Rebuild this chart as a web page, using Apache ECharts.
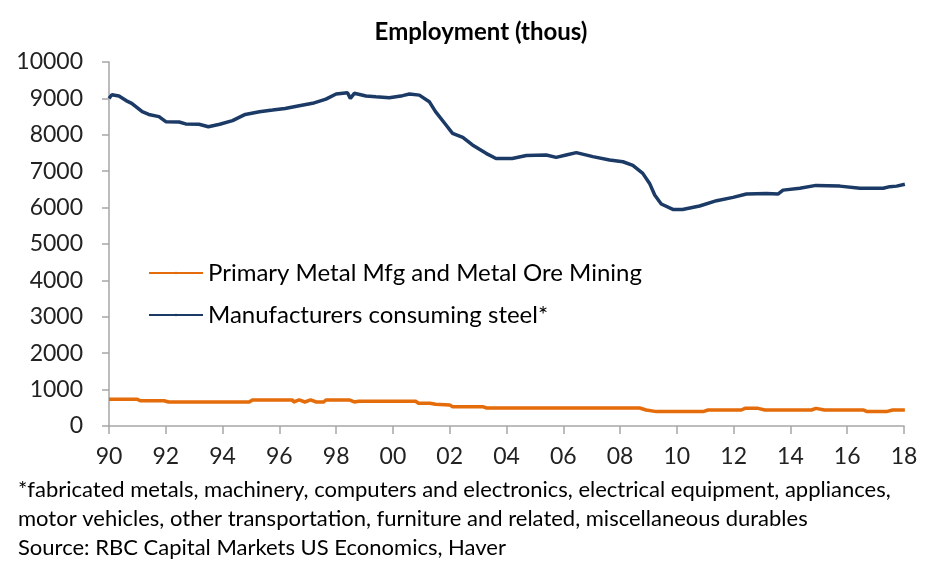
<!DOCTYPE html>
<html>
<head>
<meta charset="utf-8">
<script src="https://cdn.jsdelivr.net/npm/echarts@6/dist/echarts.min.js"></script>
<style>html,body{margin:0;padding:0;background:#fff;}#c{width:935px;height:574px;}</style>
</head>
<body>
<div id="c"></div>
<script>
var chartTitle = 'Employment (thous)';
var seriesNames = ['Primary Metal Mfg and Metal Ore Mining', 'Manufacturers consuming steel*'];
var footnotes = [
  '*fabricated metals, machinery, computers and electronics, electrical equipment, appliances,',
  'motor vehicles, other transportation, furniture and related, miscellaneous durables',
  'Source: RBC Capital Markets US Economics, Haver'
];
var yTicks = {min: 0, max: 10000, interval: 1000};
var xTicks = {min: 1990, max: 2018, interval: 2};

var steelDates = [1990.0,1990.1,1990.35,1990.6,1990.8,1991.17,1991.4,1991.76,1992.0,1992.47,1992.7,1993.17,1993.5,1993.9,1994.35,1994.8,1995.3,1995.76,1996.2,1996.7,1997.17,1997.64,1998.0,1998.4,1998.5,1998.64,1999.05,1999.4,1999.87,2000.34,2000.58,2000.93,2001.28,2001.5,2001.87,2002.1,2002.46,2002.8,2003.28,2003.63,2004.2,2004.7,2005.4,2005.75,2006.1,2006.46,2007.04,2007.63,2008.1,2008.45,2008.8,2009.04,2009.22,2009.45,2009.86,2010.2,2010.8,2011.4,2011.98,2012.45,2013.15,2013.57,2013.74,2014.33,2014.9,2015.74,2016.45,2017.27,2017.5,2017.74,2018.03];
var steelValues = [9000,9100,9065,8940,8865,8635,8560,8500,8360,8350,8300,8290,8220,8290,8390,8560,8635,8680,8725,8800,8865,8980,9120,9155,9000,9140,9065,9045,9020,9075,9120,9090,8910,8635,8270,8040,7930,7720,7490,7350,7350,7430,7445,7380,7445,7510,7400,7310,7260,7160,6940,6665,6345,6100,5950,5950,6045,6190,6280,6375,6390,6375,6480,6530,6610,6590,6530,6530,6575,6590,6640];

var metalDates = [1990.0,1991.0,1991.1,1991.94,1992.1,1994.94,1995.05,1996.46,1996.5,1996.7,1996.9,1997.1,1997.3,1997.56,1997.64,1998.46,1998.64,1998.8,2000.8,2000.9,2001.3,2001.5,2002.0,2002.1,2003.16,2003.3,2008.69,2008.92,2009.28,2010.92,2011.1,2012.27,2012.4,2012.86,2013.1,2014.74,2014.9,2015.2,2016.56,2016.7,2017.38,2017.6,2018.03];
var metalValues = [733,733,695,695,660,660,715,715,660,715,660,715,660,660,715,715,660,680,680,625,625,595,580,530,530,495,495,440,395,395,440,440,485,485,440,440,485,440,440,395,395,440,440];

function pairs(xs, ys){ return xs.map(function(x,i){ return [x, ys[i]]; }); }

var FONT = 'Lato';
var chart = echarts.init(document.getElementById('c'), null, {renderer:'canvas'});
chart.setOption({
  animation: false,
  backgroundColor: '#fff',
  title: {
    text: chartTitle, left: 476, top: 15, textAlign: 'center',
    textStyle: {fontFamily: FONT, fontWeight: 'bold', fontSize: 24, color: '#000'}
  },
  grid: {left: 109, right: 31, top: 62, bottom: 148, containLabel: false},
  legend: {
    orient: 'vertical', left: 143, top: 256, itemGap: 18, itemWidth: 54, itemHeight: 3,
    textStyle: {fontFamily: FONT, fontSize: 24, color: '#000'},
    data: seriesNames
  },
  xAxis: {
    type: 'value', min: xTicks.min, max: xTicks.max, interval: xTicks.interval,
    axisLine: {show: true, onZero: false, lineStyle: {color: '#A6A6A6', width: 1.5}},
    axisTick: {show: true, length: 8, lineStyle: {color: '#A6A6A6', width: 1.5}},
    splitLine: {show: false},
    axisLabel: {margin: 19, fontFamily: FONT, fontSize: 23, color: '#222',
      formatter: function(v){ var y = Math.round(v) % 100; return (y < 10 ? '0' : '') + y; }}
  },
  yAxis: {
    type: 'value', min: yTicks.min, max: yTicks.max, interval: yTicks.interval,
    axisLine: {show: true, lineStyle: {color: '#A6A6A6', width: 1.5}},
    axisTick: {show: true, length: 7, lineStyle: {color: '#A6A6A6', width: 1.5}},
    splitLine: {show: false},
    axisLabel: {margin: 26, fontFamily: FONT, fontSize: 23, color: '#222',
      formatter: function(v){ return String(v); }}
  },
  series: [
    {name: seriesNames[0], type: 'line', data: pairs(metalDates, metalValues), symbol: 'none',
     lineStyle: {color: '#E46C0A', width: 3.5}, itemStyle: {color: '#E46C0A'}},
    {name: seriesNames[1], type: 'line', data: pairs(steelDates, steelValues), symbol: 'none',
     lineStyle: {color: '#1B3A66', width: 3.5}, itemStyle: {color: '#1B3A66'}}
  ],
  graphic: footnotes.map(function(t, i){
    return {type: 'text', left: 18, top: 479 + i*29,
      style: {text: t, fontFamily: FONT, fontSize: 22, fill: '#000'}};
  })
});
</script>
</body>
</html>
